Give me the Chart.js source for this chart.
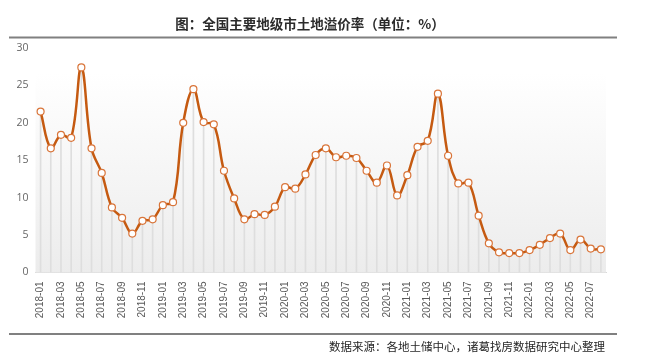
<!DOCTYPE html>
<html>
<head>
<meta charset="utf-8">
<script src="https://cdn.jsdelivr.net/npm/chart.js@4/dist/chart.umd.min.js"></script>
<style>
  html, body { margin: 0; padding: 0; background: #ffffff; }
  #wrap { width: 645px; height: 363px; position: relative; }
</style>
</head>
<body>
<div id="wrap"><canvas id="c" width="645" height="363"></canvas></div>
<script>
const months = [
  "2018-01","2018-02","2018-03","2018-04","2018-05","2018-06","2018-07","2018-08","2018-09","2018-10","2018-11","2018-12",
  "2019-01","2019-02","2019-03","2019-04","2019-05","2019-06","2019-07","2019-08","2019-09","2019-10","2019-11","2019-12",
  "2020-01","2020-02","2020-03","2020-04","2020-05","2020-06","2020-07","2020-08","2020-09","2020-10","2020-11","2020-12",
  "2021-01","2021-02","2021-03","2021-04","2021-05","2021-06","2021-07","2021-08","2021-09","2021-10","2021-11","2021-12",
  "2022-01","2022-02","2022-03","2022-04","2022-05","2022-06","2022-07","2022-08"
];
const premiumRate = [
  21.5, 16.6, 18.4, 18.0, 27.4, 16.6, 13.3, 8.7, 7.3, 5.2, 6.9, 7.1,
  9.0, 9.4, 20.0, 24.5, 20.1, 19.8, 13.6, 9.9, 7.1, 7.8, 7.7, 8.8,
  11.4, 11.2, 13.1, 15.7, 16.6, 15.4, 15.6, 15.3, 13.6, 12.0, 14.3, 10.3,
  13.0, 16.8, 17.6, 23.9, 15.6, 11.9, 12.0, 7.6, 3.9, 2.7, 2.6, 2.6,
  3.0, 3.7, 4.6, 5.2, 3.0, 4.4, 3.2, 3.1
];
const yTicks = [0, 5, 10, 15, 20, 25, 30];
const titleText = "图：全国主要地级市土地溢价率（单位：%）";
const sourceText = "数据来源：各地土储中心，诸葛找房数据研究中心整理";

const decor = {
  id: 'decor',
  beforeDatasetsDraw(chart) {
    const ctx = chart.ctx, a = chart.chartArea;
    const top = a.top + 25;
    const g = ctx.createLinearGradient(0, top, 0, a.bottom);
    g.addColorStop(0, '#ffffff');
    g.addColorStop(1, '#ececec');
    ctx.save();
    ctx.fillStyle = g;
    ctx.fillRect(a.left, top, a.right - a.left, a.bottom - top);
    ctx.restore();
  },
  afterDraw(chart) {
    const ctx = chart.ctx;
    ctx.save();
    ctx.fillStyle = '#2b2b2b';
    ctx.font = 'bold 13.5px "Noto Sans CJK SC", sans-serif';
    ctx.textAlign = 'center';
    ctx.textBaseline = 'middle';
    ctx.fillText(titleText, 310, 24);
    ctx.strokeStyle = '#808080';
    ctx.lineWidth = 2;
    ctx.beginPath(); ctx.moveTo(9, 37.5); ctx.lineTo(617, 37.5); ctx.stroke();
    ctx.beginPath(); ctx.moveTo(9, 334); ctx.lineTo(617, 334); ctx.stroke();
    ctx.font = '11.5px "Noto Sans CJK SC", sans-serif';
    ctx.textAlign = 'right';
    ctx.fillStyle = '#262626';
    ctx.fillText(sourceText, 605, 347);
    ctx.restore();
  }
};

new Chart(document.getElementById('c'), {
  type: 'bar',
  data: {
    labels: months,
    datasets: [
      {
        type: 'line',
        data: premiumRate,
        order: 1,
        borderColor: '#c55a11',
        borderWidth: 2.5,
        tension: 0.4,
        pointRadius: 3.5,
        pointBackgroundColor: '#ffffff',
        pointBorderColor: '#d9753a',
        pointBorderWidth: 1.2
      },
      {
        type: 'bar',
        data: premiumRate,
        order: 2,
        backgroundColor: '#dedede',
        barThickness: 1
      }
    ]
  },
  options: {
    responsive: false,
    animation: false,
    layout: { padding: { left: 8, right: 39, top: 48, bottom: 40.5 } },
    plugins: { legend: { display: false }, tooltip: { enabled: false }, title: { display: false } },
    scales: {
      x: {
        offset: true,
        grid: { display: false, drawTicks: false },
        border: { display: true, color: '#d9d9d9', width: 1 },
        afterFit: s => { s.height = 50; },
        ticks: {
          autoSkip: false,
          maxRotation: 90,
          minRotation: 90,
          padding: 9,
          color: '#595959',
          font: { family: '"Liberation Sans", Arial, sans-serif', size: 10 },
          callback: (v, i) => (i % 2 === 0 ? months[i] : '')
        }
      },
      y: {
        min: yTicks[0],
        max: yTicks[yTicks.length - 1],
        afterFit: s => { s.width = 27.5; },
        afterBuildTicks: s => { s.ticks = yTicks.map(v => ({ value: v })); },
        grid: { display: false, drawTicks: false },
        border: { display: false },
        ticks: {
          padding: 7,
          color: '#666666',
          font: { family: '"Open Sans", sans-serif', size: 10.5 }
        }
      }
    }
  },
  plugins: [decor]
});
</script>
</body>
</html>
